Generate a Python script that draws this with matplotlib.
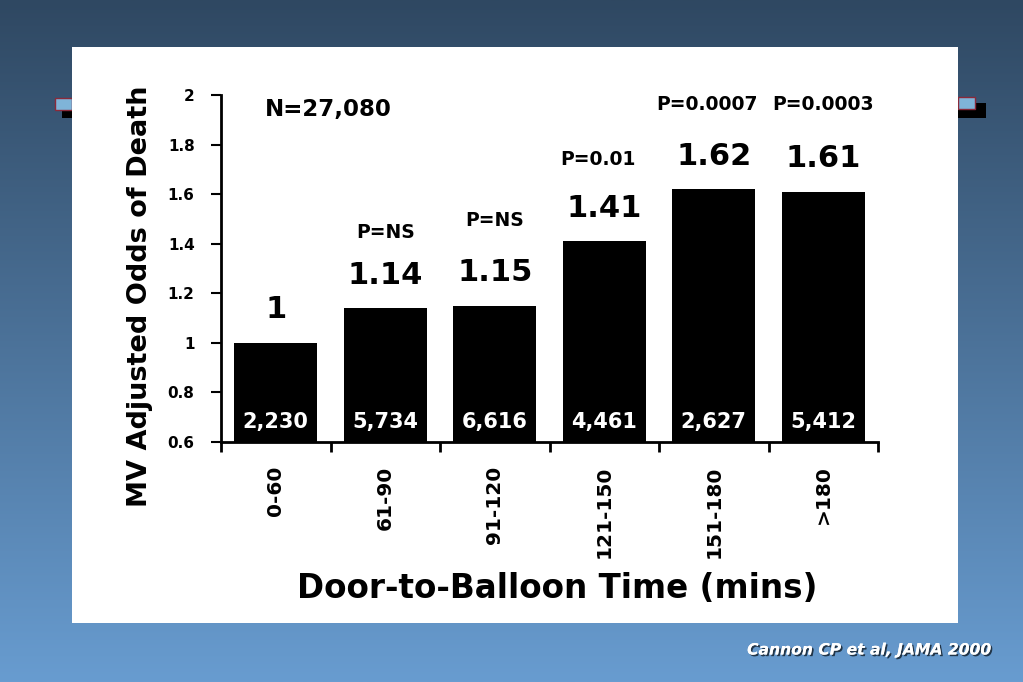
import numpy as np
import matplotlib
matplotlib.use("Agg")
import matplotlib.pyplot as plt
from matplotlib.patches import Rectangle
import matplotlib.patheffects as pe

categories = ["0-60", "61-90", "91-120", "121-150", "151-180", ">180"]
odds = [1.0, 1.14, 1.15, 1.41, 1.62, 1.61]
odds_labels = ["1", "1.14", "1.15", "1.41", "1.62", "1.61"]
counts = ["2,230", "5,734", "6,616", "4,461", "2,627", "5,412"]
pvalues = ["", "P=NS", "P=NS", "P=0.01", "P=0.0007", "P=0.0003"]
yticks = [0.6, 0.8, 1.0, 1.2, 1.4, 1.6, 1.8, 2.0]
ytick_labels = ["0.6", "0.8", "1", "1.2", "1.4", "1.6", "1.8", "2"]

plt.rcParams['font.family'] = ['DejaVu Sans']
W, H = 1023, 682
fig = plt.figure(figsize=(W / 100, H / 100), dpi=100)

# gradient background
bg = fig.add_axes([0, 0, 1, 1])
top = np.array([47, 72, 98]) / 255
bot = np.array([104, 156, 208]) / 255
t = np.linspace(0, 1, 256)[:, None]
grad = top[None, :] * (1 - t) + bot[None, :] * t
bg.imshow(grad[:, None, :], aspect='auto', extent=[0, 1, 0, 1])
bg.set_xlim(0, 1); bg.set_ylim(0, 1)
bg.axis('off')

def fx(px):
    return px / W
def fy(py):
    return 1 - py / H

# decorative tabs
for (x0, x1, y0, y1, fc, ec) in [
    (62, 72, 103, 118, 'black', 'none'),
    (55, 72, 98, 110, '#7fb4d8', '#8a2a3a'),
    (958, 986, 103, 118, 'black', 'none'),
    (958, 975, 97, 109, '#7fb4d8', '#8a2a3a'),
]:
    bg.add_patch(Rectangle((fx(x0), fy(y1)), fx(x1) - fx(x0), fy(y0) - fy(y1),
                           facecolor=fc, edgecolor=ec, lw=1, transform=bg.transAxes, zorder=2))

# white panel
bg.add_patch(Rectangle((fx(72), fy(623)), fx(958) - fx(72), fy(47) - fy(623),
                       facecolor='white', edgecolor='none', transform=bg.transAxes, zorder=3))

ax = fig.add_axes([fx(221), fy(442), fx(878) - fx(221), fy(95) - fy(442)])
ax.set_facecolor('none')
x = np.arange(len(categories))
ax.bar(x, np.array(odds) - 0.6, bottom=0.6, width=0.76, color='black')
ax.set_xlim(-0.5, 5.5)
ax.set_ylim(0.6, 2.0)
for s in ['top', 'right']:
    ax.spines[s].set_visible(False)
ax.spines['left'].set_linewidth(2)
ax.spines['bottom'].set_linewidth(2)

ax.set_yticks(yticks)
ax.set_yticklabels(ytick_labels, fontsize=11, fontweight='bold')
ax.tick_params(axis='y', length=7, width=1.5, pad=12)

ax.set_xticks(np.arange(-0.5, 6.0, 1.0))
ax.set_xticklabels([])
ax.tick_params(axis='x', which='major', length=7, width=2, direction='out')
ax.set_xticks(x, minor=True)
ax.set_xticklabels(categories, minor=True, rotation=90, fontsize=14.5,
                   fontweight='bold', va='top', ha='center')
ax.tick_params(axis='x', which='minor', length=0, pad=17)

for i, v in enumerate(odds):
    ax.text(i, v + 0.075, odds_labels[i], ha='center', va='bottom', fontsize=22,
            fontweight='bold')
    ax.text(i, 0.68, counts[i], ha='center', va='center', fontsize=15,
            fontweight='bold', color='white')

p_x = [None, 0, 0, -0.06, -0.06, 0]
p_y = [None, 1.445, 1.495, 1.74, 1.96, 1.96]
for i, p in enumerate(pvalues):
    if p:
        ax.text(i + p_x[i], p_y[i], p, ha='center', va='center', fontsize=13.5,
                fontweight='bold')

ax.text(0.48, 1.94, "N=27,080", ha='center', va='center', fontsize=16.5, fontweight='bold')

fig.text(fx(140), fy(296), "MV Adjusted Odds of Death", rotation=90, ha='center',
         va='center', fontsize=19.5, fontweight='bold')
fig.text(fx(557), fy(588), "Door-to-Balloon Time (mins)", ha='center', va='center',
         fontsize=23.5, fontweight='bold')

fig.text(fx(990), fy(650), "Cannon CP et al, JAMA 2000", ha='right', va='center',
         fontsize=11.2, fontweight='bold', style='italic', color='white',
         path_effects=[pe.withSimplePatchShadow(offset=(1.2, -1.2), shadow_rgbFace='#1a2a3a', alpha=0.9), pe.Normal()])

fig.savefig("out.png", dpi=100)
